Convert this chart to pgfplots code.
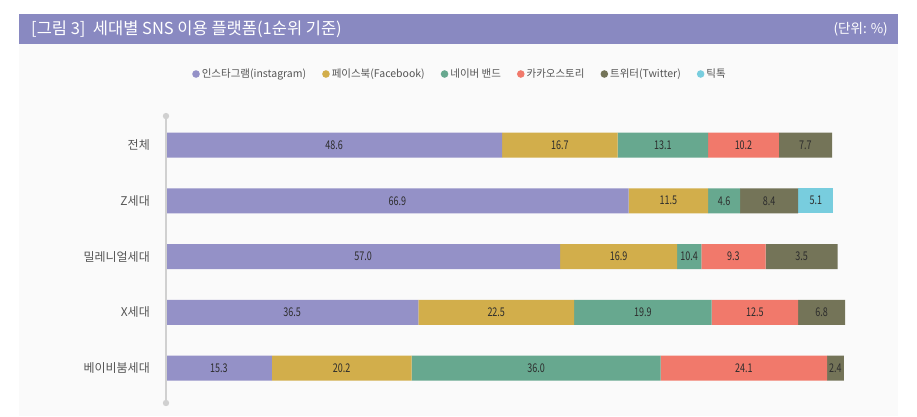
\documentclass[border=0pt]{standalone}
\usepackage{pgfplots}
\pgfplotsset{compat=1.18}
\usepackage{pgfplotstable}
\usepackage{fontspec}
\setmainfont{Noto Sans CJK KR}
\newfontfamily\numfont{Noto Sans CJK KR}[FakeStretch=0.75]
\definecolor{cIns}{RGB}{148,145,199}
\definecolor{cFb}{RGB}{210,174,75}
\definecolor{cBand}{RGB}{103,168,143}
\definecolor{cKakao}{RGB}{241,121,107}
\definecolor{cTw}{RGB}{116,116,88}
\definecolor{cTik}{RGB}{120,205,222}
\definecolor{titlebar}{RGB}{137,137,193}
\definecolor{panel}{RGB}{250,250,250}
\definecolor{axisgray}{RGB}{208,208,208}
\definecolor{txt}{RGB}{85,85,85}
\definecolor{numtxt}{RGB}{45,45,45}

% y: 4 = 전체, 3 = Z세대, 2 = 밀레니얼세대, 1 = X세대, 0 = 베이비붐세대
\pgfplotstableread{
y v lab
4 48.6 48.6
3 66.9 66.9
2 57.0 57.0
1 36.5 36.5
0 15.3 15.3
}\tIns
\pgfplotstableread{
y v lab
4 16.7 16.7
3 11.5 11.5
2 16.9 16.9
1 22.5 22.5
0 20.2 20.2
}\tFb
\pgfplotstableread{
y v lab
4 13.1 13.1
3 4.6 4.6
2 3.5 10.4
1 19.9 19.9
0 36.0 36.0
}\tBand
\pgfplotstableread{
y v lab
4 10.2 10.2
3 0 {}
2 9.3 9.3
1 12.5 12.5
0 24.1 24.1
}\tKakao
\pgfplotstableread{
y v lab
4 7.7 7.7
3 8.4 8.4
2 10.4 3.5
1 6.8 6.8
0 2.4 2.4
}\tTw
\pgfplotstableread{
y v lab
4 0 {}
3 5.1 5.1
2 0 {}
1 0 {}
0 0 {}
}\tTik

\begin{document}
\begin{tikzpicture}[x=1pt,y=1pt]
\fill[white] (0,0) rectangle (917,416);
\useasboundingbox (0,0) rectangle (917,416);
\fill[panel] (19,0) rectangle (898,372);
\fill[titlebar] (19,372) rectangle (898,402);
\node[anchor=west, text=white, font=\fontsize{16.5}{19}\selectfont, inner sep=0pt] at (31,387) {[그림 3]\ \ 세대별 SNS 이용 플랫폼(1순위 기준)};
\node[anchor=east, text=white, font=\fontsize{13.5}{16}\selectfont, inner sep=0pt] at (888,387) {(단위: \%)};

\begin{axis}[
  at={(166pt,20.1pt)}, anchor=south west,
  scale only axis,
  width=691.6pt, height=278.75pt,
  xbar stacked,
  bar width=25pt,
  xmin=0, xmax=100,
  ymin=-0.5, ymax=4.5,
  xtick=\empty,
  ytick={0,1,2,3,4},
  yticklabels={베이비붐세대,X세대,밀레니얼세대,Z세대,전체},
  yticklabel style={font=\fontsize{12}{14}\selectfont, text=txt, inner sep=0pt, anchor=east, xshift=-16pt},
  major tick length=0pt,
  axis line style={draw=none},
  clip=false,
  nodes near coords,
  point meta=explicit symbolic,
  every node near coord/.append style={anchor=center, font=\numfont\fontsize{12}{14}\selectfont, text=numtxt},
  legend columns=-1,
  legend image code/.code={\fill[#1, draw=none] (2pt,0pt) circle (3.8pt);},
  legend style={at={(0.4251,1.1548)}, anchor=center, draw=none, fill=none,
    font=\fontsize{10.5}{12}\selectfont, text=txt,
    /tikz/every even column/.append style={column sep=14pt}},
]
\draw[axisgray, line width=2pt] (axis cs:0,-0.627) -- (axis cs:0,4.52);
\fill[axisgray] (axis cs:0,4.52) circle (3.2pt);
\fill[axisgray] (axis cs:0,-0.627) circle (3.2pt);
\addplot[fill=cIns, draw=none] table[x=v, y=y, meta=lab] {\tIns};
\addlegendentry{인스타그램(instagram)}
\addplot[fill=cFb, draw=none] table[x=v, y=y, meta=lab] {\tFb};
\addlegendentry{페이스북(Facebook)}
\addplot[fill=cBand, draw=none] table[x=v, y=y, meta=lab] {\tBand};
\addlegendentry{네이버 밴드}
\addplot[fill=cKakao, draw=none] table[x=v, y=y, meta=lab] {\tKakao};
\addlegendentry{카카오스토리}
\addplot[fill=cTw, draw=none] table[x=v, y=y, meta=lab] {\tTw};
\addlegendentry{트위터(Twitter)}
\addplot[fill=cTik, draw=none] table[x=v, y=y, meta=lab] {\tTik};
\addlegendentry{틱톡}
\end{axis}
\end{tikzpicture}
\end{document}
